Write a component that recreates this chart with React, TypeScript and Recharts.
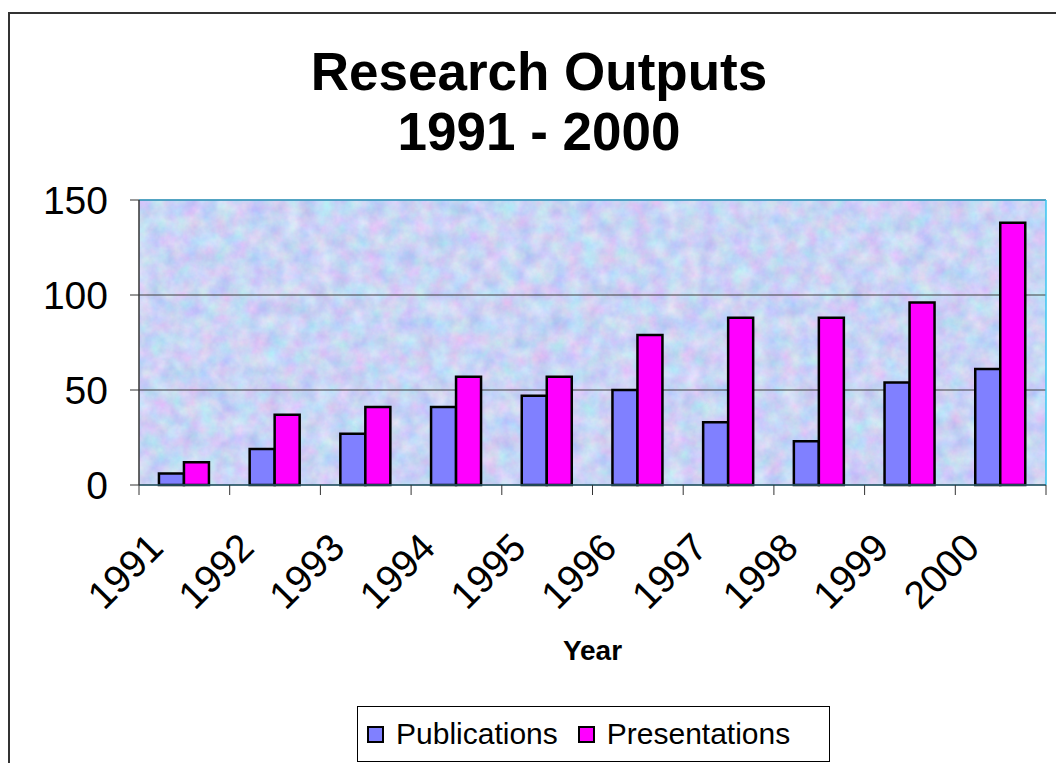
import { BarChart, Bar, XAxis, YAxis, CartesianGrid, ReferenceLine } from "recharts";

const years = ["1991", "1992", "1993", "1994", "1995", "1996", "1997", "1998", "1999", "2000"];
const publications = [6, 19, 27, 41, 47, 50, 33, 23, 54, 61];
const presentations = [12, 37, 41, 57, 57, 79, 88, 88, 96, 138];
const yTicks = [0, 50, 100, 150];

const data = years.map((year, i) => ({
  year,
  publications: publications[i],
  presentations: presentations[i],
}));

const FONT = "'Liberation Sans', Arial, Helvetica, sans-serif";

// rotated year label + tick marks between the categories (Excel style)
const YearTick = (props: any) => {
  const { x, y, payload, index, width } = props;
  const half = payload.offset || width / years.length / 2;
  return (
    <g>
      <line x1={x - half} y1={y} x2={x - half} y2={y + 10} stroke="#333" />
      {index === years.length - 1 && <line x1={x + half} y1={y} x2={x + half} y2={y + 10} stroke="#333" />}
      <g transform={`translate(${x - 19},${y + 65})`}>
        <text x={0} y={0} textAnchor="end" transform="rotate(-45)" fontSize={39} fontFamily={FONT} fill="#000">
          {payload.value}
        </text>
      </g>
    </g>
  );
};

const LegendItem = ({ color, label }: { color: string; label: string }) => (
  <div style={{ display: "flex", alignItems: "center" }}>
    <span style={{ width: 13, height: 13, background: color, border: "2px solid #000", marginRight: 12 }} />
    <span>{label}</span>
  </div>
);

export default function App() {
  return (
    <div style={{ position: "absolute", left: 0, top: 0, width: 1056, height: 763, background: "#fff", overflow: "hidden", fontFamily: FONT }}>
      <div style={{ position: "absolute", left: 8, top: 12, width: 1100, height: 800, borderLeft: "2px solid #333", borderTop: "2px solid #333" }} />

      <div style={{ position: "absolute", left: 0, top: 42, width: 1078, textAlign: "center", fontWeight: "bold", fontSize: 53, lineHeight: "60px" }}>
        Research Outputs
        <br />
        1991 - 2000
      </div>

      <div style={{ position: "absolute", left: 0, top: 0 }}>
        <BarChart
          width={1056}
          height={763}
          data={data}
          margin={{ top: 200, right: 10, bottom: 0, left: 0 }}
          barCategoryGap="22%"
          barGap={0}
        >
          <defs>
            <filter id="noise" x="0" y="0" width="100%" height="100%" colorInterpolationFilters="sRGB">
              <feTurbulence type="fractalNoise" baseFrequency="0.06" numOctaves={4} seed={7} />
              <feColorMatrix
                type="matrix"
                values="0.3 0 0 0 0.64  0 0.24 0 0 0.71  0 0 0.1 0 0.91  0 0 0 0 1"
              />
            </filter>
            <pattern id="tex" patternUnits="userSpaceOnUse" width={1056} height={763}>
              <rect width={1056} height={763} fill="#c6d2f5" filter="url(#noise)" />
            </pattern>
          </defs>
          <CartesianGrid vertical={false} stroke="#404040" fill="url(#tex)" fillOpacity={1} />
          <XAxis
            dataKey="year"
            tick={<YearTick />}
            tickLine={false}
            tickSize={0}
            tickMargin={0}
            interval={0}
            height={278}
            axisLine={{ stroke: "#2b5f72", strokeWidth: 1.5 }}
            label={{ value: "Year", position: "insideTop", offset: 155, fontSize: 28, fontWeight: "bold", fill: "#000", fontFamily: FONT }}
          />
          <YAxis
            domain={[0, 150]}
            ticks={yTicks}
            width={139}
            tickSize={9}
            tickMargin={22}
            axisLine={{ stroke: "#333", strokeWidth: 1.5 }}
            tickLine={{ stroke: "#333" }}
            tick={{ fontSize: 39, fill: "#000", fontFamily: FONT }}
          />
          <ReferenceLine y={150} stroke="#3aa6cf" strokeWidth={1.5} />
          <ReferenceLine x="2000" position="end" stroke="#38c6f0" strokeWidth={1.5} />
          <Bar dataKey="publications" fill="#8080ff" stroke="#000" strokeWidth={2.5} isAnimationActive={false} />
          <Bar dataKey="presentations" fill="#ff00ff" stroke="#000" strokeWidth={2.5} isAnimationActive={false} />
        </BarChart>
      </div>

      <div
        style={{
          position: "absolute",
          left: 357,
          top: 706,
          width: 473,
          height: 56,
          border: "1px solid #000",
          display: "flex",
          alignItems: "center",
          gap: 20,
          paddingLeft: 9,
          boxSizing: "border-box",
          fontSize: 30,
        }}
      >
        <LegendItem color="#8080ff" label="Publications" />
        <LegendItem color="#ff00ff" label="Presentations" />
      </div>
    </div>
  );
}
